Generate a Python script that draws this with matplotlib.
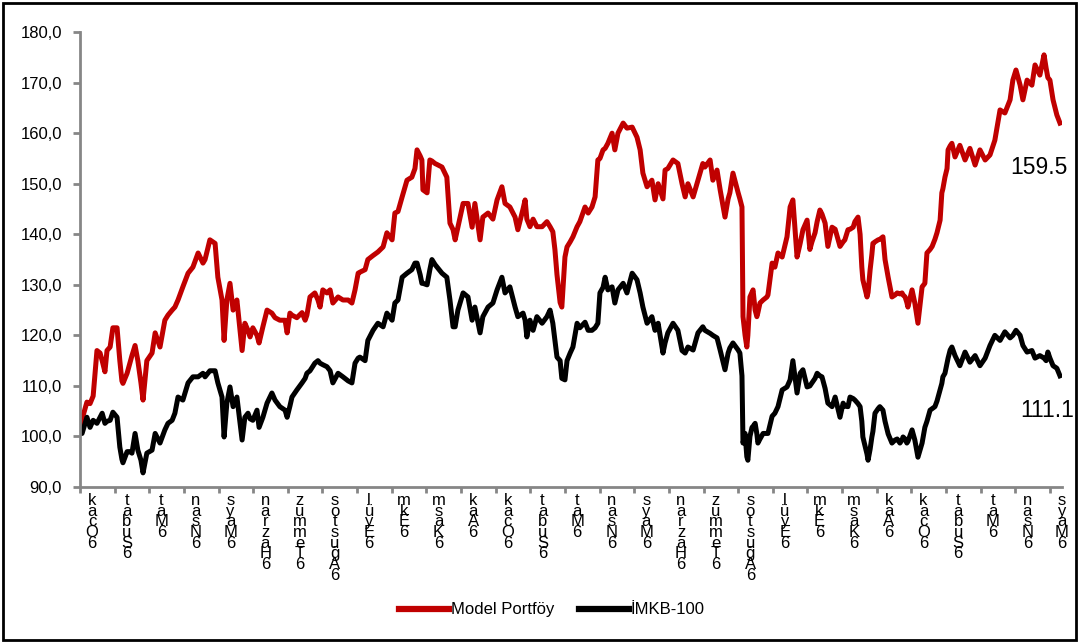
import numpy as np
import matplotlib.pyplot as plt
from matplotlib import transforms
from matplotlib.lines import Line2D

plt.rcParams['font.family'] = ['Liberation Sans', 'DejaVu Sans']

## VERI : konum (ay, 0 = Ocak) ve endeks degerleri (baz 100)
ay = [0.00, 0.06, 0.20, 0.29, 0.38, 0.49, 0.58, 0.64, 0.72, 0.78, 0.87, 0.95, 1.07, 1.15, 1.21, 1.24,
      1.36, 1.44, 1.50, 1.59, 1.67, 1.76, 1.82, 1.93, 2.08, 2.17, 2.31, 2.45, 2.54, 2.66, 2.74, 2.83,
      2.97, 3.12, 3.26, 3.41, 3.55, 3.61, 3.75, 3.90, 3.98, 4.10, 4.16, 4.24, 4.33, 4.42, 4.53, 4.68,
      4.76, 4.85, 4.91, 4.99, 5.11, 5.17, 5.28, 5.40, 5.54, 5.63, 5.77, 5.92, 5.98, 6.06, 6.12, 6.26,
      6.41, 6.50, 6.55, 6.64, 6.78, 6.87, 6.93, 7.01, 7.13, 7.22, 7.30, 7.45, 7.59, 7.74, 7.85, 7.94,
      8.03, 8.08, 8.23, 8.31, 8.46, 8.60, 8.75, 8.86, 9.01, 9.09, 9.18, 9.30, 9.44, 9.58, 9.67, 9.73,
      9.82, 9.87, 9.90, 10.02, 10.10, 10.16, 10.25, 10.31, 10.45, 10.59, 10.68, 10.77, 10.83, 10.91,
      11.06, 11.20, 11.32, 11.40, 11.55, 11.63, 11.78, 11.92, 12.04, 12.18, 12.27, 12.41, 12.56, 12.64,
      12.79, 12.85, 12.90, 12.99, 13.08, 13.19, 13.34, 13.48, 13.57, 13.65, 13.71, 13.77, 13.86, 13.91,
      14.00, 14.06, 14.15, 14.23, 14.35, 14.43, 14.58, 14.67, 14.78, 14.87, 14.95, 15.01, 15.10, 15.16,
      15.24, 15.36, 15.44, 15.53, 15.68, 15.79, 15.94, 16.08, 16.17, 16.25, 16.37, 16.51, 16.60, 16.69,
      16.83, 16.89, 16.97, 17.12, 17.26, 17.38, 17.47, 17.55, 17.70, 17.84, 17.98, 18.04, 18.19, 18.27,
      18.39, 18.48, 18.62, 18.71, 18.76, 18.85, 19.00, 19.05, 19.11, 19.14, 19.20, 19.25, 19.28, 19.34,
      19.40, 19.43, 19.49, 19.54, 19.57, 19.63, 19.72, 19.83, 19.86, 19.98, 20.06, 20.15, 20.27, 20.41,
      20.50, 20.58, 20.70, 20.79, 20.87, 20.99, 21.07, 21.13, 21.22, 21.28, 21.36, 21.42, 21.51, 21.59,
      21.71, 21.80, 21.94, 22.03, 22.08, 22.17, 22.23, 22.32, 22.37, 22.46, 22.52, 22.57, 22.60, 22.72,
      22.75, 22.81, 22.86, 22.89, 22.95, 23.04, 23.09, 23.18, 23.24, 23.33, 23.44, 23.53, 23.59, 23.67,
      23.73, 23.76, 23.82, 23.87, 23.90, 24.02, 24.10, 24.19, 24.31, 24.39, 24.45, 24.54, 24.60, 24.68,
      24.74, 24.83, 24.88, 24.91, 24.97, 25.03, 25.06, 25.12, 25.17, 25.26, 25.40, 25.55, 25.69, 25.84,
      25.98, 26.13, 26.27, 26.41, 26.56, 26.70, 26.85, 26.93, 27.02, 27.14, 27.22, 27.34, 27.48, 27.57,
      27.71, 27.83, 27.89, 27.94, 28.00, 28.09, 28.20, 28.29]

model = [102.0, 103.4, 106.8, 106.5, 108.0, 117.0, 116.5, 115.0, 112.8, 117.0, 117.7, 121.5, 121.5, 115.0, 111.0, 110.5,
         112.5, 114.5, 116.0, 118.0, 115.0, 110.6, 107.2, 115.0, 116.5, 120.5, 117.7, 123.0, 124.0, 125.0, 125.6, 127.0,
         129.6, 132.3, 133.5, 136.3, 134.3, 135.0, 138.9, 138.2, 131.5, 127.0, 119.0, 127.0, 130.3, 125.0, 127.0, 117.0,
         122.4, 121.0, 119.7, 121.5, 120.0, 118.5, 121.7, 125.0, 124.4, 123.5, 123.0, 123.0, 120.5, 124.4, 124.0, 123.5,
         124.5, 123.0, 124.0, 127.6, 128.4, 127.0, 125.6, 129.0, 128.4, 129.0, 126.4, 127.6, 127.0, 127.0, 126.4, 129.0,
         132.3, 132.5, 133.0, 135.0, 135.8, 136.5, 137.5, 140.3, 138.9, 144.2, 144.5, 147.4, 150.7, 151.3, 153.0, 156.7,
         155.5, 154.7, 148.8, 148.2, 154.7, 154.5, 154.0, 153.8, 153.3, 151.3, 142.2, 140.9, 138.9, 141.4,
         146.1, 146.1, 141.4, 146.1, 138.9, 143.4, 144.2, 143.0, 146.8, 149.4, 146.1, 145.4, 143.4, 140.9,
         145.0, 146.8, 143.0, 141.5, 143.0, 141.5, 141.5, 142.5, 141.5, 140.5, 137.0, 132.0, 126.5, 125.6,
         135.5, 137.5, 138.5, 139.5, 141.5, 142.5, 145.4, 144.2, 145.4, 147.4, 154.7, 155.0, 156.7, 157.0,
         158.0, 160.0, 156.7, 160.0, 162.0, 161.0, 161.2, 159.2, 156.7, 152.1, 149.4, 150.7, 146.8, 150.0,
         147.0, 152.7, 153.0, 154.7, 154.0, 150.0, 147.4, 150.0, 147.4, 150.7, 154.0, 153.3, 154.7, 150.7,
         152.7, 148.8, 143.4, 147.0, 148.2, 152.1, 148.2, 147.0, 145.4, 123.7, 120.0, 117.7, 120.0, 127.6,
         128.5, 129.0, 125.0, 123.7, 124.5, 126.4, 127.0, 127.6, 128.0, 134.3, 133.5, 136.3, 135.5, 139.5,
         145.4, 146.8, 135.5, 138.2, 140.9, 142.8, 137.0, 138.5, 140.3, 142.5, 144.8, 144.0, 142.2, 137.6,
         141.4, 141.0, 137.6, 138.5, 138.9, 140.9, 141.0, 141.4, 142.5, 143.4, 140.0, 133.5, 131.0, 127.6,
         128.5, 133.0, 136.0, 138.2, 138.5, 138.9, 139.0, 139.5, 135.0, 131.5, 127.6, 128.0, 128.4, 128.2,
         128.4, 128.0, 127.6, 126.5, 125.6, 129.0, 126.4, 122.4, 129.6, 130.3, 136.3, 137.0, 137.6, 139.0,
         140.3, 142.8, 148.2, 149.0, 151.3, 153.0, 156.7, 157.5, 158.0, 155.3, 157.6, 154.7, 157.0, 153.7,
         156.7, 154.7, 155.7, 158.6, 164.6, 164.0, 166.6, 170.5, 172.5, 169.5, 166.6, 170.5, 169.5, 173.5,
         171.5, 175.5, 172.9, 171.0, 170.5, 166.6, 163.6, 162.0]

imkb = [101.0, 100.6, 103.8, 101.8, 103.2, 102.6, 103.8, 104.6, 102.6, 103.0, 103.2, 104.8, 103.8, 97.9, 95.5, 94.8,
        97.0, 97.0, 96.7, 100.6, 97.3, 95.3, 92.8, 96.7, 97.3, 100.6, 98.7, 101.3, 102.6, 103.2, 104.6, 107.8,
        107.2, 110.6, 111.8, 111.8, 112.5, 111.8, 113.0, 113.0, 110.6, 107.8, 99.9, 106.6, 109.8, 105.9, 107.8, 99.3,
        103.8, 104.6, 103.5, 103.2, 105.2, 101.8, 103.8, 106.6, 108.6, 107.2, 105.9, 105.2, 103.8, 106.0, 107.8, 109.2,
        110.6, 111.5, 112.5, 113.0, 114.5, 115.0, 114.5, 114.2, 113.8, 113.0, 110.6, 112.5, 111.8, 111.0, 110.6, 114.5,
        115.5, 115.7, 115.0, 119.0, 121.0, 122.4, 121.7, 124.4, 123.0, 126.4, 127.0, 131.5, 132.3, 133.0, 134.3, 134.3,
        132.0, 130.3, 130.3, 130.0, 133.0, 135.0, 134.0, 133.5, 132.3, 131.5, 127.0, 121.7, 121.7, 125.0,
        128.4, 127.6, 123.0, 125.6, 120.5, 123.7, 125.6, 126.4, 129.0, 131.5, 128.4, 129.6, 125.6, 123.7,
        124.4, 123.0, 119.7, 123.0, 121.0, 123.7, 122.4, 123.7, 125.0, 122.4, 119.0, 115.7, 115.0, 111.5,
        111.2, 115.0, 116.5, 117.7, 122.4, 121.5, 122.6, 121.0, 121.0, 121.5, 122.4, 128.4, 129.5, 131.5,
        129.0, 129.6, 126.4, 129.0, 130.3, 128.4, 132.3, 131.0, 128.4, 125.6, 122.4, 123.7, 121.0, 122.4,
        116.5, 118.5, 120.5, 122.4, 121.0, 117.0, 116.5, 117.7, 117.1, 120.5, 121.7, 121.0, 120.4, 120.0,
        119.5, 117.1, 113.2, 116.5, 117.5, 118.5, 117.1, 116.5, 112.0, 98.7, 100.6, 96.0, 95.3, 100.0,
        101.8, 102.0, 102.6, 100.5, 98.7, 99.5, 100.6, 100.6, 100.6, 104.0, 104.6, 105.9, 109.2, 109.8,
        111.2, 115.0, 108.6, 112.5, 113.2, 109.8, 110.0, 110.6, 111.5, 112.5, 112.0, 111.8, 109.5, 106.6,
        105.9, 107.8, 103.8, 106.6, 106.0, 105.9, 107.8, 107.5, 107.2, 106.5, 105.9, 103.0, 99.9, 96.5,
        95.3, 97.5, 99.9, 101.0, 104.6, 105.5, 105.9, 105.2, 103.0, 100.5, 98.7, 99.3, 99.5, 98.7,
        99.3, 99.9, 99.5, 98.7, 99.0, 101.3, 99.3, 95.9, 98.7, 101.8, 103.0, 105.2, 105.5, 105.9,
        107.0, 109.2, 110.5, 111.8, 112.5, 114.5, 115.5, 117.1, 117.7, 116.0, 114.0, 116.7, 114.7, 116.0,
        114.0, 115.5, 118.0, 120.0, 119.0, 120.7, 119.5, 120.0, 121.0, 120.0, 118.0, 116.7, 117.0, 115.5,
        116.0, 115.5, 115.0, 116.7, 115.5, 114.0, 113.5, 112.0]

# Eksen etiketleri (dikey yigilmis harfler)
aylar = ["kacO6", "tabuS6", "taM6", "nasN6", "syaM6", "narzaH6", "zummeT6",
         "sotsuğA6", "lüyE6", "mkE6", "msaK6", "kaA6"]
etiketler = [aylar[i % 12] for i in range(29)]

y_ticks = [90, 100, 110, 120, 130, 140, 150, 160, 170, 180]
son_model = "159.5"
son_imkb = "111.1"

kirmizi = "#C00000"
gri = "#868686"

## GRAFIK
fig = plt.figure(figsize=(10.78, 6.42), dpi=100)
ax = fig.add_axes([0.0742, 0.2414, 0.911, 0.7086])

ax.plot(ay, model, color=kirmizi, lw=3.6, solid_joinstyle='round')
ax.plot(ay, imkb, color='black', lw=3.6, solid_joinstyle='round')

ax.set_xlim(0, 28.35)
ax.set_ylim(90, 180)
ax.set_yticks(y_ticks)
ax.set_yticklabels([f"{v:.1f}".replace('.', ',') for v in y_ticks], fontsize=12)
ax.set_xticks(range(29))
ax.set_xticklabels([])

for s in ['top', 'right']:
    ax.spines[s].set_visible(False)
for s in ['left', 'bottom']:
    ax.spines[s].set_color(gri)
    ax.spines[s].set_linewidth(2)
ax.tick_params(axis='y', length=5, width=2, color=gri, pad=8)
ax.tick_params(axis='x', length=4, width=2, color=gri)

# ay etiketleri
trans = transforms.blended_transform_factory(ax.transData, ax.transAxes)
for i, lab in enumerate(etiketler):
    ax.text(i + 0.35, -0.013, "\n".join(lab), transform=trans, ha='center', va='top',
            fontsize=12, linespacing=0.64, clip_on=False)

# son degerler
ax.text(26.85, 153.3, son_model, fontsize=16.5, va='center', ha='left', clip_on=False)
ax.text(27.14, 105.2, son_imkb, fontsize=16.5, va='center', ha='left', clip_on=False)

# lejant
h1 = Line2D([], [], color=kirmizi, lw=4.5)
h2 = Line2D([], [], color='black', lw=4.5)
fig.legend([h1, h2], ["Model Portföy", "İMKB-100"], loc='center', bbox_to_anchor=(0.512, 0.05),
           ncol=2, frameon=False, fontsize=12, handlelength=3.0, handletextpad=0.1, columnspacing=1.5)

# cerceve
fig.patches.append(plt.Rectangle((0.003, 0.003), 0.995, 0.992, transform=fig.transFigure,
                                 fill=False, edgecolor='black', lw=2))

fig.savefig("out.png", dpi=100)
